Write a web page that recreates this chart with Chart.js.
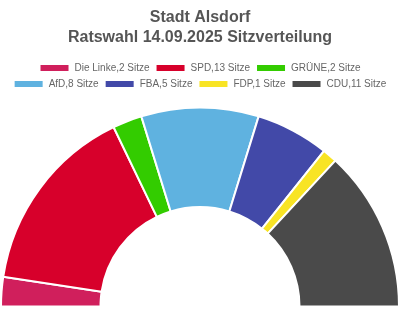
<!DOCTYPE html>
<html>
<head>
<meta charset="utf-8">
<script src="https://cdn.jsdelivr.net/npm/chart.js@4"></script>
<style>
  html, body { margin: 0; padding: 0; background: #fff; }
  #wrap { width: 400px; height: 319px; }
</style>
</head>
<body>
<div id="wrap"><canvas id="seats"></canvas></div>
<script>
const parties = ['Die Linke', 'SPD', 'GRÜNE', 'AfD', 'FBA', 'FDP', 'CDU']
const seats = [2, 13, 2, 8, 5, 1, 11]
const colors = ['#d01f5c', '#d7002b', '#33cc00', '#5fb2e0', '#4249a8', '#f8e425', '#4a4a4a']

const labels = parties.map((p, i) => p + ',' + seats[i] + ' Sitze')

const ctx = document.getElementById('seats').getContext('2d')

const seatChart = new Chart(ctx, {
    type: 'doughnut',
    data: {
        labels: labels,
        datasets: [{
            data: seats,
            backgroundColor: colors,
            borderColor: '#ffffff',
            borderWidth: 2
        }]
    },
    options: {
        responsive: true,
        maintainAspectRatio: false,
        animation: false,
        rotation: -90,
        circumference: 180,
        cutout: '50%',
        layout: { padding: { left: 0, right: 0, bottom: 4, top: 0 } },
        plugins: {
            title: {
                display: true,
                text: ['Stadt Alsdorf', 'Ratswahl 14.09.2025 Sitzverteilung'],
                color: '#555555',
                font: { family: 'Liberation Sans', size: 16, weight: 'bold', lineHeight: 1.25 },
                padding: { top: 8, bottom: 9 }
            },
            legend: {
                position: 'top',
                labels: {
                    boxWidth: 30,
                    boxHeight: 8,
                    color: '#666666',
                    font: { family: 'Liberation Sans', size: 10 },
                    padding: 6
                }
            },
            tooltip: { enabled: false }
        }
    }
})
</script>
</body>
</html>
